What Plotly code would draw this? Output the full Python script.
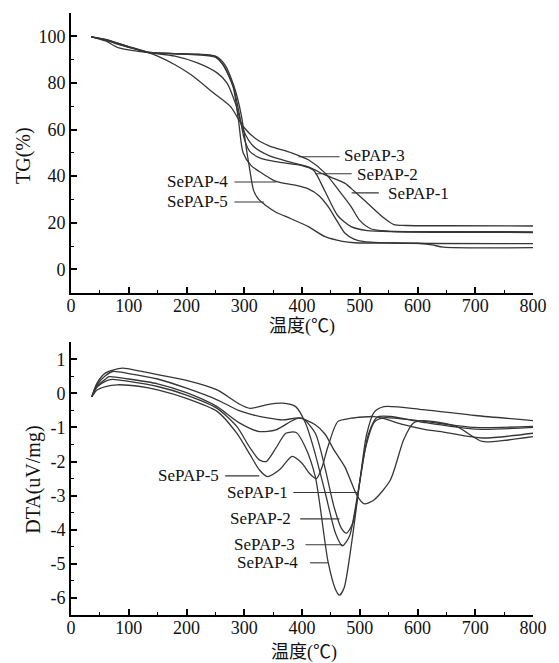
import plotly.graph_objects as go

# ---------------- TG data (temperature °C, TG %) ----------------
tg1_t = [35, 60, 83, 134, 180, 219, 253, 270, 285, 298, 315, 343, 380, 411, 440, 474, 491, 513, 542, 559, 580, 650, 800]
tg1_v = [99.8, 98.0, 95.0, 93.0, 91.5, 88.6, 84.3, 80.0, 71.0, 60.0, 53.0, 48.8, 46.0, 44.0, 40.5, 37.0, 33.4, 28.5, 22.0, 19.2, 18.8, 18.7, 18.6]

tg2_t = [35, 60, 100, 134, 180, 220, 250, 264, 281, 292, 300, 310, 330, 360, 400, 420, 440, 462, 485, 513, 560, 650, 800]
tg2_v = [99.8, 98.6, 95.6, 93.2, 92.6, 92.2, 91.3, 87.5, 78.5, 66.0, 56.0, 50.5, 47.5, 46.0, 44.5, 42.5, 33.4, 23.0, 18.3, 16.6, 16.1, 15.9, 15.8]

tg3_t = [35, 60, 83, 134, 151, 180, 208, 247, 276, 298, 320, 343, 383, 411, 440, 463, 485, 500, 520, 550, 650, 800]
tg3_v = [99.8, 98.4, 96.4, 93.0, 91.4, 87.8, 83.5, 75.7, 69.9, 61.3, 56.0, 53.0, 49.9, 47.0, 41.3, 34.1, 26.9, 21.0, 17.3, 16.4, 16.2, 16.1]

tg4_t = [35, 60, 100, 134, 180, 220, 250, 264, 281, 290, 298, 312, 326, 355, 390, 411, 430, 445, 460, 474, 490, 508, 560, 800]
tg4_v = [99.8, 98.5, 95.3, 93.1, 92.5, 92.0, 91.0, 87.5, 78.0, 64.0, 50.0, 44.5, 42.0, 37.7, 36.0, 34.5, 31.5, 27.0, 21.0, 15.6, 13.0, 11.9, 11.3, 11.0]

tg5_t = [35, 60, 100, 134, 180, 220, 250, 266, 283, 295, 304, 310, 316, 325, 338, 355, 380, 411, 440, 470, 491, 600, 625, 645, 800]
tg5_v = [99.8, 98.7, 95.5, 93.0, 92.6, 92.3, 91.5, 88.0, 78.0, 66.0, 51.3, 42.0, 34.0, 30.0, 27.3, 24.5, 21.8, 18.3, 14.0, 12.0, 11.4, 11.2, 10.5, 9.5, 9.3]

# ---------------- DTA data (temperature °C, DTA uV/mg) ----------------
dta1_t = [36, 45, 60, 66, 100, 150, 200, 253, 290, 326, 355, 394, 423, 440, 455, 474, 496, 508, 525, 553, 576, 593, 610, 667, 712, 750, 800]
dta1_v = [-0.1, 0.2, 0.42, 0.49, 0.42, 0.28, 0.02, -0.39, -0.85, -1.12, -1.07, -0.73, -0.92, -1.2, -1.65, -2.15, -3.02, -3.24, -3.12, -2.54, -1.36, -0.87, -0.8, -0.97, -1.41, -1.38, -1.27]

dta2_t = [36, 45, 60, 72, 100, 150, 200, 253, 290, 315, 340, 366, 400, 423, 440, 455, 468, 477, 488, 500, 515, 530, 553, 610, 700, 800]
dta2_v = [-0.1, 0.25, 0.52, 0.64, 0.58, 0.42, 0.15, -0.19, -0.5, -0.63, -0.72, -0.78, -0.73, -1.17, -2.2, -3.3, -3.95, -4.1, -3.8, -2.6, -1.2, -0.7, -0.68, -0.85, -1.05, -1.0]

dta3_t = [36, 45, 60, 89, 120, 150, 200, 253, 290, 310, 340, 366, 389, 406, 420, 440, 458, 470, 482, 495, 510, 525, 540, 600, 700, 800]
dta3_v = [-0.1, 0.3, 0.6, 0.74, 0.65, 0.55, 0.38, 0.1, -0.3, -0.44, -0.33, -0.29, -0.39, -0.87, -1.6, -2.9, -4.1, -4.47, -4.2, -3.1, -1.6, -0.85, -0.72, -0.8, -1.0, -0.97]

dta4_t = [36, 45, 60, 72, 100, 150, 200, 253, 287, 310, 326, 338, 355, 372, 390, 405, 423, 445, 458, 465, 473, 485, 500, 512, 525, 542, 610, 700, 800]
dta4_v = [-0.1, 0.18, 0.36, 0.41, 0.35, 0.2, -0.05, -0.44, -0.97, -1.6, -1.95, -2.0, -1.6, -1.17, -1.15, -1.55, -2.44, -4.93, -5.75, -5.92, -5.7, -4.5, -2.6, -1.2, -0.55, -0.39, -0.48, -0.65, -0.8]

dta5_t = [36, 45, 60, 80, 120, 150, 200, 253, 287, 310, 326, 340, 361, 383, 400, 413, 425, 435, 445, 462, 485, 525, 542, 576, 610, 650, 712, 800]
dta5_v = [-0.1, 0.1, 0.2, 0.25, 0.2, 0.1, -0.15, -0.53, -1.17, -1.8, -2.24, -2.44, -2.24, -1.85, -2.05, -2.35, -2.5, -2.15, -1.56, -0.83, -0.73, -0.68, -0.74, -0.92, -1.05, -1.15, -1.31, -1.17]

series_names = ["SePAP-1", "SePAP-2", "SePAP-3", "SePAP-4", "SePAP-5"]
tg_t = [tg1_t, tg2_t, tg3_t, tg4_t, tg5_t]
tg_v = [tg1_v, tg2_v, tg3_v, tg4_v, tg5_v]
dta_t = [dta1_t, dta2_t, dta3_t, dta4_t, dta5_t]
dta_v = [dta1_v, dta2_v, dta3_v, dta4_v, dta5_v]

x_ticks = [0, 100, 200, 300, 400, 500, 600, 700, 800]
tg_ticks = [0, 20, 40, 60, 80, 100]
dta_ticks = [1, 0, -1, -2, -3, -4, -5, -6]
dta_ticklabels = ["1", "0", "-1", "-2", "-3", "-4", "-5", "-6"]

LINE = "#363636"
SERIF = "Liberation Serif"
CJK = "Liberation Serif, Noto Sans CJK SC"

fig = go.Figure()
for name, t, v in zip(series_names, tg_t, tg_v):
    fig.add_trace(go.Scatter(x=t, y=v, mode="lines", name=name, xaxis="x", yaxis="y",
                             line=dict(color=LINE, width=1.3, shape="spline", smoothing=0.7)))
for name, t, v in zip(series_names, dta_t, dta_v):
    fig.add_trace(go.Scatter(x=t, y=v, mode="lines", name=name, xaxis="x2", yaxis="y2",
                             line=dict(color=LINE, width=1.3, shape="spline", smoothing=0.7)))

axis_common = dict(showline=True, linecolor="black", linewidth=1.6, ticks="inside",
                   ticklen=6, tickwidth=1.5, tickcolor="black", showgrid=False, zeroline=False,
                   tickfont=dict(family=SERIF, size=18, color="#111"))
x_extra = dict(ticklabelstandoff=-4)

fig.update_layout(
    width=559, height=663,
    margin=dict(l=71, r=17, t=13, b=48),
    paper_bgcolor="white", plot_bgcolor="white",
    showlegend=False,
    xaxis=dict(domain=[0, 1], range=[0, 800], anchor="y", tickvals=x_ticks,
               minor=dict(ticks="inside", ticklen=3, tickwidth=1.2, dtick=50, tickcolor="black"),
               **axis_common, **x_extra),
    yaxis=dict(domain=[0.5355, 1], range=[-10, 110], anchor="x", tickvals=tg_ticks,
               minor=dict(ticks="inside", ticklen=3, tickwidth=1.2, dtick=10, tickcolor="black"),
               **axis_common),
    xaxis2=dict(domain=[0, 1], range=[0, 800], anchor="y2", tickvals=x_ticks,
                minor=dict(ticks="inside", ticklen=3, tickwidth=1.2, dtick=50, tickcolor="black"),
                **axis_common, **x_extra),
    yaxis2=dict(domain=[0, 0.4532], range=[-6.5, 1.5], anchor="x2", tickvals=dta_ticks,
                ticktext=dta_ticklabels,
                minor=dict(ticks="inside", ticklen=3, tickwidth=1.2, dtick=0.5, tickcolor="black"),
                **axis_common),
)

lab_font = dict(family=SERIF, size=17, color="#111")
ann = []
shapes = []

# TG labels: (text, line x0, line x1, y line, text anchor side, text x, text y)
tg_labels = [
    ("SePAP-3", 394, 465, 48.3, "left", 470, 49.0),
    ("SePAP-2", 423, 486, 41.0, "left", 491, 40.6),
    ("SePAP-1", 486, 533, 32.8, "left", 545, 32.6),
    ("SePAP-4", 283, 355, 37.5, "right", 275, 37.5),
    ("SePAP-5", 283, 334, 28.9, "right", 275, 28.9),
]
for text, x0, x1, y, side, tx, ty in tg_labels:
    shapes.append(dict(type="line", xref="x", yref="y", x0=x0, x1=x1, y0=y, y1=y,
                       line=dict(color=LINE, width=1.1)))
    ann.append(dict(xref="x", yref="y", x=tx, y=ty, text=text, showarrow=False,
                    xanchor=side, yanchor="middle", font=lab_font))

dta_labels = [
    ("SePAP-5", 267, 326, -2.42, 260),
    ("SePAP-1", 385, 496, -2.91, 379),
    ("SePAP-2", 397, 465, -3.68, 384),
    ("SePAP-3", 406, 470, -4.44, 392),
    ("SePAP-4", 414, 445, -4.97, 397),
]
for text, x0, x1, y, tx in dta_labels:
    shapes.append(dict(type="line", xref="x2", yref="y2", x0=x0, x1=x1, y0=y, y1=y,
                       line=dict(color=LINE, width=1.1)))
    ann.append(dict(xref="x2", yref="y2", x=tx, y=y, text=text, showarrow=False,
                    xanchor="right", yanchor="middle", font=lab_font))

# axis titles
title_font = dict(family=SERIF, size=20, color="#111")
ann.append(dict(xref="paper", yref="paper", x=-0.104, y=0.764, text="TG(%)", textangle=-90,
                showarrow=False, xanchor="center", yanchor="middle", font=title_font))
ann.append(dict(xref="paper", yref="paper", x=-0.083, y=0.224, text="DTA(uV/mg)", textangle=-90,
                showarrow=False, xanchor="center", yanchor="middle", font=title_font))
ann.append(dict(xref="paper", yref="paper", x=0.499, y=0.48, text="温度(℃)",
                showarrow=False, xanchor="center", yanchor="middle",
                font=dict(family=CJK, size=18, color="#111")))
ann.append(dict(xref="paper", yref="paper", x=0.505, y=-0.063, text="温度(℃)",
                showarrow=False, xanchor="center", yanchor="middle",
                font=dict(family=CJK, size=18, color="#111")))

fig.update_layout(annotations=ann, shapes=shapes)
fig.write_html("out.html", config={"displayModeBar": False},
               post_script="document.body.style.margin='0';")
